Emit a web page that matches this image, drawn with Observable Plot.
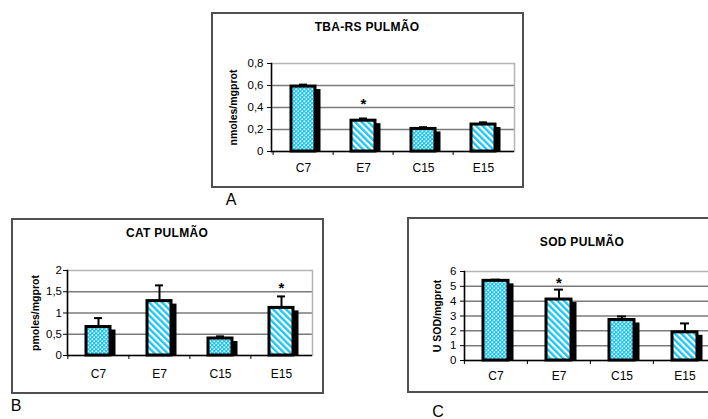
<!DOCTYPE html>
<html><head><meta charset="utf-8">
<script src="https://cdn.jsdelivr.net/npm/d3@7"></script>
<script src="https://cdn.jsdelivr.net/npm/@observablehq/plot@0.6"></script>
<style>
body{margin:0;background:#fff;}
#root{position:relative;width:708px;height:419px;overflow:hidden;font-family:"Liberation Sans",Arial,sans-serif;color:#000;background:#fff;}
.box{position:absolute;border:2px solid #505050;box-sizing:border-box;}
.title{position:absolute;transform:translate(-50%,-50%);font-weight:bold;font-size:12px;letter-spacing:0.3px;white-space:nowrap;}
.letter{position:absolute;transform:translate(-50%,-50%);font-size:16px;}
</style></head><body>
<svg width="0" height="0" style="position:absolute">
<defs>
<pattern id="dots" width="4" height="4" patternUnits="userSpaceOnUse">
<rect width="4" height="4" fill="#1cc6ef"/>
<rect x="0.5" y="0.5" width="1.6" height="1.6" fill="#fff"/>
<rect x="2.5" y="2.5" width="1.6" height="1.6" fill="#fff"/>
</pattern>
<pattern id="stripes" width="4.6" height="10" patternUnits="userSpaceOnUse" patternTransform="rotate(-45)">
<rect width="4.6" height="10" fill="#fff"/>
<rect width="2.4" height="10" fill="#1cc6ef"/>
</pattern>
</defs></svg>
<div id="root"></div>
<script>
const categories = ["C7", "E7", "C15", "E15"];

const tbaTitle = "TBA-RS PULMÃO";
const tbaLabel = "nmoles/mgprot";
const tbaValues = [0.59, 0.28, 0.205, 0.245];
const tbaErrors = [0.018, 0.02, 0.016, 0.02];
const tbaTicks = [0, 0.2, 0.4, 0.6, 0.8];
const tbaStarCats = ["E7"];
const tbaStarValues = [0.43];

const catTitle = "CAT PULMÃO";
const catLabel = "pmoles/mgprot";
const catValues = [0.67, 1.28, 0.40, 1.12];
const catErrors = [0.21, 0.37, 0.05, 0.27];
const catTicks = [0, 0.5, 1, 1.5, 2];
const catStarCats = ["E15"];
const catStarValues = [1.58];

const sodTitle = "SOD PULMÃO";
const sodLabel = "U SOD/mgprot";
const sodValues = [5.37, 4.11, 2.73, 1.9];
const sodErrors = [0.08, 0.67, 0.24, 0.6];
const sodTicks = [0, 1, 2, 3, 4, 5, 6];
const sodStarCats = ["E7"];
const sodStarValues = [5.23];

const panelLetters = ["A", "B", "C"];

const fmt = d => String(d).replace(".", ",");
const root = document.getElementById("root");

function addDiv(cls, text, x, y, w, h) {
  const d = document.createElement("div");
  d.className = cls;
  if (text != null) d.textContent = text;
  d.style.left = x + "px"; d.style.top = y + "px";
  if (w != null) { d.style.width = w + "px"; d.style.height = h + "px"; }
  root.appendChild(d);
  return d;
}

function panel(o) {
  const data = categories.map((c, i) => ({cat: c, v: o.values[i], top: o.values[i] + o.errors[i]}));
  const stars = o.starCats.map((c, i) => ({cat: c, y: o.starValues[i]}));
  const ticks = o.ticks, max = ticks[ticks.length - 1];
  const step = (o.width - o.ml - o.mr) / categories.length;
  addDiv("box", null, o.left, o.top, o.boxW, o.height + 1);
  const svg = Plot.plot({
    width: o.width, height: o.height,
    marginTop: o.mt, marginRight: o.mr, marginBottom: o.mb, marginLeft: o.ml,
    style: {fontFamily: "'Liberation Sans', Arial, sans-serif", fontSize: "11.5px", color: "black", background: "transparent", overflow: "visible"},
    x: {domain: categories, paddingInner: 0.6, paddingOuter: 0.3, label: null},
    y: {domain: [0, max], label: null},
    marks: [
      Plot.ruleY(ticks.slice(1, -1), {stroke: "#7a7a7a", strokeWidth: 1.5}),
      Plot.frame({stroke: "#b4b4b4", strokeWidth: 1.5}),
      Plot.barY(data, {x: "cat", y: "v", fill: "black", dx: 5.5, insetTop: 3}),
      Plot.barY(data.filter(d => d.cat[0] === "C"), {x: "cat", y: "v", fill: "url(#dots)", stroke: "black", strokeWidth: 3}),
      Plot.barY(data.filter(d => d.cat[0] === "E"), {x: "cat", y: "v", fill: "url(#stripes)", stroke: "black", strokeWidth: 3}),
      Plot.ruleX(data, {x: "cat", y1: "v", y2: "top", stroke: "black", strokeWidth: 2}),
      Plot.tickY(data, {x: "cat", y: "top", stroke: "black", strokeWidth: 2, inset: 8}),
      Plot.text(stars, {x: "cat", y: "y", text: () => "*", fontSize: 15, fontWeight: "bold"}),
      Plot.frame({anchor: "left", stroke: "black", strokeWidth: 1.5}),
      Plot.ruleY([0], {stroke: "black", strokeWidth: 1.5}),
      Plot.axisY({ticks: ticks, tickFormat: fmt, tickSize: 4, tickPadding: o.ytp, stroke: "black", fill: "black", fontSize: 11.5}),
      Plot.axisX({tickSize: 4, tickFormat: () => "", dx: -step / 2, stroke: "black"}),
      Plot.axisX({tickSize: 0, tickPadding: o.xtp, fontSize: 12, fill: "black"}),
      Plot.text([o.label], {text: d => d, frameAnchor: "left", textAnchor: "middle", rotate: -90, dx: o.ldx, fontWeight: "bold", fontSize: 10.5, fill: "black"})
    ]
  });
  svg.style.position = "absolute";
  svg.style.left = o.left + "px";
  svg.style.top = o.top + "px";
  root.appendChild(svg);
  addDiv("title", o.title, o.tx, o.ty);
}

panel({title: tbaTitle, label: tbaLabel, values: tbaValues, errors: tbaErrors, ticks: tbaTicks,
  starCats: tbaStarCats, starValues: tbaStarValues,
  left: 211, top: 12, width: 312, boxW: 313, height: 175, ml: 60, mr: 9, mt: 51, mb: 36,
  ytp: 4, xtp: 11.5, ldx: -38, tx: 367, ty: 27});
panel({title: catTitle, label: catLabel, values: catValues, errors: catErrors, ticks: catTicks,
  starCats: catStarCats, starValues: catStarValues,
  left: 11, top: 218, width: 312, boxW: 313, height: 175, ml: 56, mr: 11, mt: 52, mb: 38,
  ytp: 1.5, xtp: 13.5, ldx: -32, tx: 167, ty: 233});
panel({title: sodTitle, label: sodLabel, values: sodValues, errors: sodErrors, ticks: sodTicks,
  starCats: sodStarCats, starValues: sodStarValues,
  left: 407, top: 217, width: 330, boxW: 331, height: 175, ml: 57, mr: 20, mt: 54, mb: 32,
  ytp: 4, xtp: 10.5, ldx: -27, tx: 582, ty: 242});

addDiv("letter", panelLetters[0], 231, 200);
addDiv("letter", panelLetters[1], 16, 406);
addDiv("letter", panelLetters[2], 438, 412);
</script>
</body></html>
